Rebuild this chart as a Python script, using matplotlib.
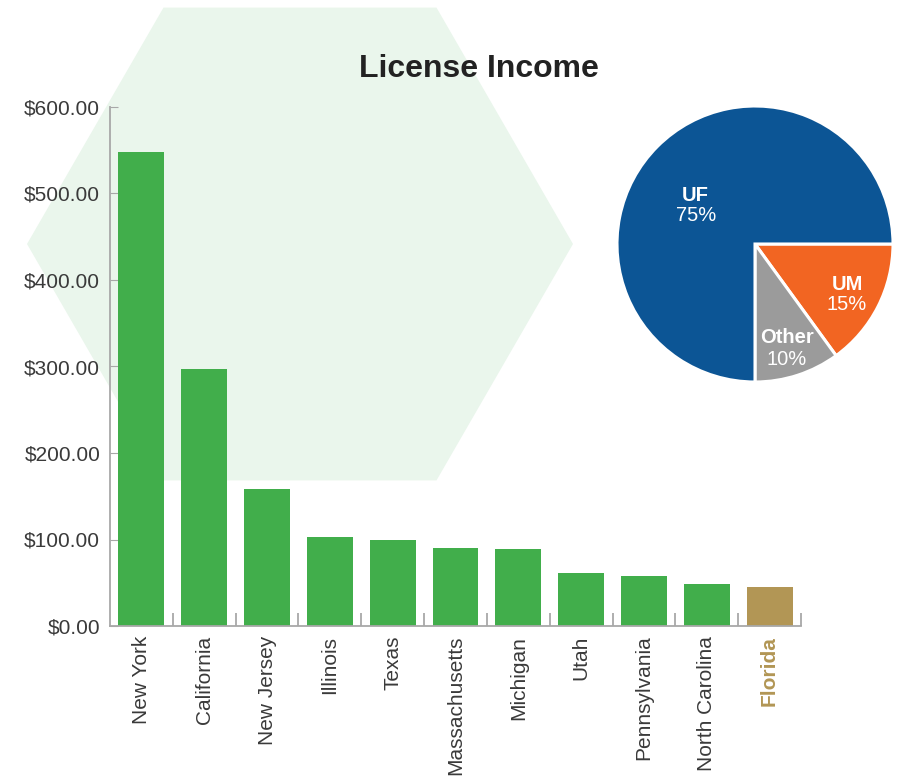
import numpy as np
import matplotlib
matplotlib.use("Agg")
import matplotlib.pyplot as plt
from matplotlib.patches import Polygon

# ─── data ───────────────────────────────────────
states = ["New York", "California", "New Jersey", "Illinois", "Texas",
          "Massachusetts", "Michigan", "Utah", "Pennsylvania",
          "North Carolina", "Florida"]
income = [548, 297, 158, 103, 99, 90, 89, 61, 58, 48, 45]
y_ticks = [0, 100, 200, 300, 400, 500, 600]

pie_names = ["UM", "Other", "UF"]
pie_share = [15, 10, 75]

# ─── style ──────────────────────────────────────
GREEN = "#41ae4b"
GOLD = "#b29655"
PIE_COLORS = ["#f26522", "#9b9b9b", "#0c5595"]
TEXT = "#3a3a3a"
SPINE = "#a8a8a8"
plt.rcParams['font.family'] = ['Liberation Sans', 'DejaVu Sans']

W, H = 899, 780
fig = plt.figure(figsize=(W / 100, H / 100), dpi=100)

# background hexagon (pixel coords)
bg = fig.add_axes([0, 0, 1, 1], zorder=0)
bg.set_xlim(0, W)
bg.set_ylim(H, 0)
bg.axis("off")
cx, cy, R = 300, 244, 273
ang = np.radians(np.arange(0, 360, 60))
hexa = np.column_stack([cx + R * np.cos(ang), cy + R * np.sin(ang)])
bg.add_patch(Polygon(hexa, closed=True, facecolor="#eaf6ec", edgecolor="none"))

# bar chart
ax = fig.add_axes([110 / W, 1 - 626 / H, 691 / W, 519 / H], zorder=1)
ax.patch.set_alpha(0)
x = np.arange(len(states))
colors = [GREEN] * (len(states) - 1) + [GOLD]
ax.bar(x, income, width=0.73, color=colors, zorder=2)
ax.set_xlim(-0.5, len(states) - 0.5)
ax.set_ylim(0, 600)

for s in ["top", "right"]:
    ax.spines[s].set_visible(False)
for s in ["left", "bottom"]:
    ax.spines[s].set_color(SPINE)
    ax.spines[s].set_linewidth(1.3)

ax.set_yticks(y_ticks)
ax.set_yticklabels([f"${v:.2f}" for v in y_ticks])
ax.set_yticks([600], minor=True)
ax.tick_params(axis="y", which="major", direction="in", length=6, color=SPINE,
               pad=7, labelsize=15, labelcolor=TEXT)
ax.tick_params(axis="y", which="minor", direction="in", length=12, color=SPINE,
               width=1.3)

ax.set_xticks(x)
ax.set_xticklabels(states, rotation=90)
ax.set_xticks(x[1:] - 0.5, minor=True)
ax.set_xticks(list(x[1:] - 0.5) + [len(states) - 0.5], minor=True)
ax.tick_params(axis="x", which="major", length=0, pad=7, labelsize=15,
               labelcolor=TEXT)
ax.tick_params(axis="x", which="minor", direction="in", length=9.5,
               color=SPINE, width=1.3)
for lbl in ax.get_xticklabels():
    lbl.set_va("top")
    if lbl.get_text() == "Florida":
        lbl.set_color(GOLD)
        lbl.set_fontweight("bold")

fig.text(479 / W, 1 - 77 / H, "License Income", ha="center", va="baseline",
         fontsize=23, fontweight="bold", color="#222222")

# pie chart
pr = 138
pax = fig.add_axes([(755 - pr) / W, 1 - (244 + pr) / H, 2 * pr / W, 2 * pr / H],
                   zorder=2)
pax.pie(pie_share, colors=PIE_COLORS, startangle=0, counterclock=False,
        radius=1, wedgeprops=dict(edgecolor="white", linewidth=2.2))
pax.set_xlim(-1, 1)
pax.set_ylim(-1, 1)
pax.set_aspect("auto")

label_pos = {"UF": (-0.43, 0.312, 0.167),
             "UM": (0.667, -0.333, -0.478),
             "Other": (0.232, -0.717, -0.877)}
for name, share in zip(pie_names, pie_share):
    lx, ly1, ly2 = label_pos[name]
    pax.text(lx, ly1, name, ha="center", va="baseline", color="white",
             fontsize=14.5, fontweight="bold")
    pax.text(lx, ly2, f"{share}%", ha="center", va="baseline", color="white",
             fontsize=14.5)

fig.savefig("out.png", dpi=100)
